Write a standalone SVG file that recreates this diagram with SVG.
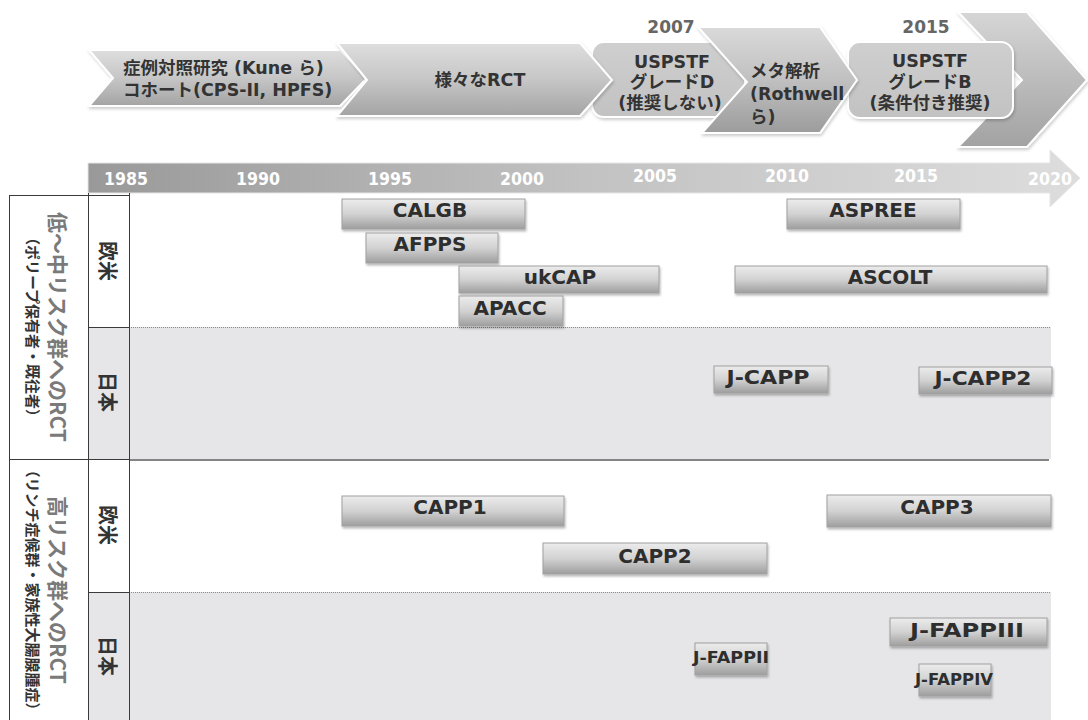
<svg xmlns="http://www.w3.org/2000/svg" width="1088" height="720" viewBox="0 0 1088 720">
<defs>
  <linearGradient id="gBox" x1="0" y1="0" x2="0" y2="1">
    <stop offset="0" stop-color="#ececec"/>
    <stop offset="0.5" stop-color="#d2d2d2"/>
    <stop offset="1" stop-color="#9e9e9e"/>
  </linearGradient>
  <linearGradient id="gChev" x1="0" y1="0" x2="0" y2="1">
    <stop offset="0" stop-color="#dedede"/>
    <stop offset="0.5" stop-color="#c6c6c6"/>
    <stop offset="1" stop-color="#a4a4a4"/>
  </linearGradient>
  <linearGradient id="gChev4" x1="0" y1="0" x2="0" y2="1">
    <stop offset="0" stop-color="#dadada"/>
    <stop offset="0.5" stop-color="#c0c0c0"/>
    <stop offset="1" stop-color="#9c9c9c"/>
  </linearGradient>
  <linearGradient id="gFlat" x1="0" y1="0" x2="0" y2="1">
    <stop offset="0" stop-color="#cfcfcf"/>
    <stop offset="1" stop-color="#c2c2c2"/>
  </linearGradient>
  <linearGradient id="gChev6" x1="0" y1="0" x2="0" y2="1">
    <stop offset="0" stop-color="#d6d6d6"/>
    <stop offset="1" stop-color="#a2a2a2"/>
  </linearGradient>
  <linearGradient id="gTime" x1="0" y1="0" x2="1" y2="0">
    <stop offset="0" stop-color="#999999"/>
    <stop offset="0.5" stop-color="#c2c2c2"/>
    <stop offset="1" stop-color="#dddddd"/>
  </linearGradient>
  <filter id="sh" x="-10%" y="-20%" width="120%" height="150%">
    <feDropShadow dx="1" dy="2" stdDeviation="1" flood-color="#000" flood-opacity="0.28"/>
  </filter>
  <filter id="shc" x="-10%" y="-20%" width="120%" height="150%">
    <feDropShadow dx="1" dy="2" stdDeviation="1.5" flood-color="#000" flood-opacity="0.2"/>
  </filter>
</defs>
<style>
  .chev { stroke: #ffffff; stroke-width: 2; filter: url(#shc); }
  .ct { font-family: "DejaVu Sans", "Noto Sans CJK JP", sans-serif; font-weight: bold; font-size: 17.5px; fill: #333333; }
  .yr { font-family: "DejaVu Sans", "Noto Sans CJK JP", sans-serif; font-weight: bold; font-size: 17px; fill: #666666; text-anchor: middle; }
  .tl { font-family: "DejaVu Sans", sans-serif; font-weight: bold; font-size: 18px; fill: #ffffff; text-anchor: middle; }
  .box { fill: url(#gBox); stroke: #a0a0a0; stroke-width: 1; filter: url(#sh); }
  .bt { font-family: "DejaVu Sans", sans-serif; font-weight: bold; font-size: 20px; fill: #2e2e2e; text-anchor: middle; }
  .bts { font-family: "DejaVu Sans", sans-serif; font-weight: bold; font-size: 15px; fill: #2e2e2e; text-anchor: middle; }
  .tbl { stroke: #3a3a3a; stroke-width: 1; fill: none; }
  .dot { stroke: #8a8a8a; stroke-width: 1; stroke-dasharray: 1 1; fill: none; }
  .gmain { font-family: "Noto Sans CJK JP", sans-serif; font-weight: bold; font-size: 21px; fill: #7a7a7a; text-anchor: middle; dominant-baseline: central; }
  .gsub { font-family: "Noto Sans CJK JP", sans-serif; font-weight: bold; font-size: 15px; fill: #333333; text-anchor: middle; dominant-baseline: central; }
  .reg { font-family: "Noto Sans CJK JP", sans-serif; font-weight: bold; font-size: 20px; fill: #333333; text-anchor: middle; dominant-baseline: central; }
</style>
<rect width="1088" height="720" fill="#ffffff"/>

<!-- Top process chevrons -->
<g id="chevron-1">
  <path class="chev" fill="url(#gChev)" d="M89,50 L340,50 L367,78 L340,106 L89,106 L113,78 Z"/>
  <text class="ct" x="123" y="74">症例対照研究 (Kune ら)</text>
  <text class="ct" x="123" y="96">コホート(CPS-II, HPFS)</text>
</g>
<g id="chevron-6">
  <path class="chev" fill="url(#gChev6)" d="M958,12 L1027,12 L1087,80 L1027,147 L958,147 L1022,80 Z"/>
</g>
<g id="chevron-5">
  <rect class="chev" fill="url(#gFlat)" x="848" y="42" width="165" height="76" rx="12"/>
  <text class="yr" x="926" y="33">2015</text>
  <text class="ct" x="930" y="67" text-anchor="middle">USPSTF</text>
  <text class="ct" x="930" y="88" text-anchor="middle">グレードB</text>
  <text class="ct" x="930" y="109" text-anchor="middle">(条件付き推奨)</text>
</g>
<g id="chevron-3">
  <rect class="chev" fill="url(#gFlat)" x="592" y="42" width="153" height="75" rx="12"/>
  <text class="yr" x="671" y="33">2007</text>
  <text class="ct" x="672" y="68" text-anchor="middle">USPSTF</text>
  <text class="ct" x="672" y="88" text-anchor="middle">グレードD</text>
  <text class="ct" x="670" y="109" text-anchor="middle">(推奨しない)</text>
</g>
<g id="chevron-2">
  <path class="chev" fill="url(#gChev)" d="M337,43 L580,43 L612,80 L580,116 L337,116 L367,80 Z"/>
  <text class="ct" x="480" y="86" text-anchor="middle">様々なRCT</text>
</g>
<g id="chevron-4">
  <path class="chev" fill="url(#gChev4)" d="M698,27 L820,27 L857,80 L820,133 L702,133 L747,82 Z"/>
  <text class="ct" x="750" y="77">メタ解析</text>
  <text class="ct" x="750" y="100">(Rothwell</text>
  <text class="ct" x="750" y="123">ら)</text>
</g>

<!-- Timeline arrow -->
<g id="timeline">
  <path fill="url(#gTime)" stroke="#e6e6e6" stroke-width="1" d="M88,163 H1050 V150 L1080,178 L1050,207 V193 H88 Z"/>
  <text class="tl" x="126" y="185" textLength="44" lengthAdjust="spacingAndGlyphs">1985</text>
  <text class="tl" x="258" y="185" textLength="44" lengthAdjust="spacingAndGlyphs">1990</text>
  <text class="tl" x="390" y="185" textLength="44" lengthAdjust="spacingAndGlyphs">1995</text>
  <text class="tl" x="522" y="185" textLength="44" lengthAdjust="spacingAndGlyphs">2000</text>
  <text class="tl" x="655" y="182" textLength="44" lengthAdjust="spacingAndGlyphs">2005</text>
  <text class="tl" x="787" y="182" textLength="44" lengthAdjust="spacingAndGlyphs">2010</text>
  <text class="tl" x="916" y="182" textLength="44" lengthAdjust="spacingAndGlyphs">2015</text>
  <text class="tl" x="1050" y="185" textLength="44" lengthAdjust="spacingAndGlyphs">2020</text>
</g>

<!-- Table background and grid -->
<g id="table">
  <rect x="88" y="327" width="963" height="132" fill="#e6e6e8"/>
  <rect x="88" y="592" width="963" height="128" fill="#e6e6e8"/>
  <line class="dot" x1="129" y1="327.5" x2="1051" y2="327.5"/>
  <line class="dot" x1="129" y1="592.5" x2="1051" y2="592.5"/>
  <line x1="129" y1="460" x2="1049" y2="460" stroke="#858585" stroke-width="2"/>
  <line class="tbl" x1="9.5" y1="195.5" x2="129" y2="195.5"/>
  <line class="tbl" x1="9.5" y1="195" x2="9.5" y2="720"/>
  <line class="tbl" x1="88.5" y1="193" x2="88.5" y2="720"/>
  <line class="tbl" x1="129.5" y1="193" x2="129.5" y2="720"/>
  <line class="tbl" x1="88" y1="327.5" x2="129" y2="327.5"/>
  <line class="tbl" x1="9" y1="459.5" x2="129" y2="459.5"/>
  <line class="tbl" x1="88" y1="592.5" x2="129" y2="592.5"/>
</g>

<!-- Group labels -->
<g id="group-low-mid">
  <text class="gmain" transform="translate(59,327) rotate(90)">低～中リスク群へのRCT</text>
  <text class="gsub" transform="translate(33,327) rotate(90)">（ポリープ保有者・既往者）</text>
</g>
<g id="group-high">
  <text class="gmain" transform="translate(59,590) rotate(90)">高リスク群へのRCT</text>
  <text class="gsub" transform="translate(33,590) rotate(90)">（リンチ症候群・家族性大腸腺腫症）</text>
</g>
<g id="region-labels">
  <text class="reg" transform="translate(108,261) rotate(90)">欧米</text>
  <text class="reg" transform="translate(108,392) rotate(90)">日本</text>
  <text class="reg" transform="translate(108,525) rotate(90)">欧米</text>
  <text class="reg" transform="translate(108,656) rotate(90)">日本</text>
</g>

<!-- Trials -->
<g id="trial-CALGB">
  <rect class="box" x="342" y="199" width="183" height="30"/>
  <text class="bt" x="430" y="217">CALGB</text>
</g>
<g id="trial-AFPPS">
  <rect class="box" x="366" y="233" width="132" height="30"/>
  <text class="bt" x="430" y="251">AFPPS</text>
</g>
<g id="trial-ukCAP">
  <rect class="box" x="459" y="266" width="200" height="27"/>
  <text class="bt" x="560" y="284">ukCAP</text>
</g>
<g id="trial-APACC">
  <rect class="box" x="459" y="296" width="104" height="30"/>
  <text class="bt" x="510" y="315">APACC</text>
</g>
<g id="trial-ASPREE">
  <rect class="box" x="787" y="199" width="173" height="30"/>
  <text class="bt" x="873" y="217">ASPREE</text>
</g>
<g id="trial-ASCOLT">
  <rect class="box" x="735" y="266" width="312" height="27"/>
  <text class="bt" x="890" y="284">ASCOLT</text>
</g>
<g id="trial-J-CAPP">
  <rect class="box" x="714" y="366" width="114" height="27"/>
  <text class="bt" x="768" y="384" textLength="83" lengthAdjust="spacingAndGlyphs">J-CAPP</text>
</g>
<g id="trial-J-CAPP2">
  <rect class="box" x="919" y="367" width="133" height="27"/>
  <text class="bt" x="983" y="385" textLength="97" lengthAdjust="spacingAndGlyphs">J-CAPP2</text>
</g>
<g id="trial-CAPP1">
  <rect class="box" x="342" y="496" width="222" height="30"/>
  <text class="bt" x="450" y="514">CAPP1</text>
</g>
<g id="trial-CAPP2">
  <rect class="box" x="543" y="543" width="224" height="31"/>
  <text class="bt" x="655" y="563">CAPP2</text>
</g>
<g id="trial-CAPP3">
  <rect class="box" x="827" y="495" width="224" height="32"/>
  <text class="bt" x="937" y="514">CAPP3</text>
</g>
<g id="trial-J-FAPPIII">
  <rect class="box" x="890" y="618" width="157" height="28"/>
  <text class="bt" x="967" y="637" textLength="114" lengthAdjust="spacingAndGlyphs">J-FAPPIII</text>
</g>
<g id="trial-J-FAPPII">
  <rect class="box" x="695" y="643" width="72" height="32"/>
  <text class="bts" x="731" y="663" textLength="76" lengthAdjust="spacingAndGlyphs">J-FAPPII</text>
</g>
<g id="trial-J-FAPPIV">
  <rect class="box" x="919" y="664" width="72" height="32"/>
  <text class="bts" x="954" y="685" textLength="78" lengthAdjust="spacingAndGlyphs">J-FAPPIV</text>
</g>
<g id="connectors"></g>
</svg>
